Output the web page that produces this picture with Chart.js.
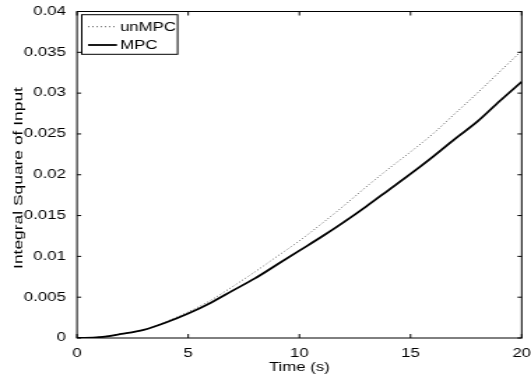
<!DOCTYPE html>
<html><head><meta charset="utf-8">
<script src="https://cdn.jsdelivr.net/npm/chart.js@4"></script>
<style>
html,body{margin:0;padding:0;background:#fff;overflow:hidden;}
#wrap{width:531px;height:382px;position:relative;overflow:hidden;}
canvas{position:absolute;left:0;top:0;transform-origin:0 0;transform:scaleX(1.3974);}
</style></head><body>
<div id="wrap"><canvas id="c" width="380" height="382" style="width:380px;height:382px"></canvas></div>
<script>
const timeS = [0,1,2,3,4,5,6,7,8,9,10,11,12,13,14,15,16,17,18,19,20];
const mpc = [0,0.0001,0.0005,0.0010,0.0019,0.0030,0.0043,0.0058,0.0073,0.0090,0.0107,0.0124,0.0142,0.0161,0.0181,0.0201,0.0222,0.0244,0.0265,0.0290,0.0314];
const unmpc = [0,0.0001,0.0005,0.0010,0.0020,0.0032,0.0046,0.0063,0.0081,0.0100,0.0119,0.0140,0.0162,0.0185,0.0207,0.0228,0.0250,0.0275,0.0300,0.0326,0.0352];
const seriesNames = ['unMPC','MPC'];
const xTicks = [0,5,10,15,20];
const xTickLabels = ['0','5','10','15','20'];
const yTicks = [0,0.005,0.01,0.015,0.02,0.025,0.03,0.035,0.04];
const yTickLabels = ['0','0.005','0.01','0.015','0.02','0.025','0.03','0.035','0.04'];
const xTitle = 'Time (s)';
const yTitle = 'Integral Square of Input';

const K = 1.3974;
const FONT = {family:'"Liberation Sans", Arial, Helvetica, sans-serif', size:12};

function drawYTitle(){
  const s = this, ctx = s.ctx, t = s.options.title;
  ctx.save();
  ctx.fillStyle = t.color;
  ctx.font = '12px "Liberation Sans", Arial, sans-serif';
  ctx.translate(13.6, 178);
  ctx.scale(1/K, 1.45);
  ctx.rotate(-Math.PI/2);
  ctx.textAlign='center'; ctx.textBaseline='middle';
  ctx.fillText(t.text, 0, 0);
  ctx.restore();
}

const frame = {
  id:'frame',
  afterDatasetsDraw(chart){
    const {ctx, chartArea:a, scales:{x,y}} = chart;
    ctx.save();
    ctx.strokeStyle='#000'; ctx.lineWidth=1; ctx.setLineDash([]);
    ctx.strokeRect(a.left, a.top, a.right-a.left, a.bottom-a.top);
    ctx.beginPath();
    xTicks.forEach(v=>{const px=x.getPixelForValue(v); ctx.moveTo(px,a.bottom); ctx.lineTo(px,a.bottom-4); ctx.moveTo(px,a.top); ctx.lineTo(px,a.top+4);});
    yTicks.forEach(v=>{const py=y.getPixelForValue(v); ctx.moveTo(a.left,py); ctx.lineTo(a.left+3,py); ctx.moveTo(a.right,py); ctx.lineTo(a.right-3,py);});
    ctx.stroke();
    // legend
    const lx=a.left+3.4, ly=a.top+3.2, lw=68.6, lh=39.6;
    ctx.fillStyle='#fff';
    ctx.fillRect(lx,ly,lw,lh);
    ctx.strokeRect(lx,ly,lw,lh);
    const ds = chart.data.datasets;
    const rows=[ly+12, ly+30.3];
    ds.forEach((d,i)=>{
      const yy=rows[i];
      ctx.beginPath();
      ctx.strokeStyle=d.borderColor;
      ctx.lineWidth=d.borderWidth;
      ctx.setLineDash(d.borderDash||[]);
      ctx.moveTo(lx+4.5,yy); ctx.lineTo(lx+25.2,yy);
      ctx.stroke();
      ctx.setLineDash([]);
      ctx.fillStyle='#000';
      ctx.font='12px "Liberation Sans", Arial, sans-serif';
      ctx.textBaseline='middle'; ctx.textAlign='left';
      ctx.fillText(d.label, lx+27.4, yy+0.5);
    });
    ctx.restore();
  }
};

new Chart(document.getElementById('c'),{
  type:'line',
  data:{
    datasets:[
      {label:seriesNames[0], data:timeS.map((t,i)=>({x:t,y:unmpc[i]})), borderColor:'rgba(0,0,0,0.65)', borderWidth:1, borderDash:[1,2], pointRadius:0, cubicInterpolationMode:'monotone', fill:false},
      {label:seriesNames[1], data:timeS.map((t,i)=>({x:t,y:mpc[i]})), borderColor:'#000', borderWidth:1.8, pointRadius:0, cubicInterpolationMode:'monotone', fill:false}
    ]
  },
  options:{
    responsive:false, animation:false, devicePixelRatio:1,
    layout:{padding:{top:11.5,right:5.7,left:0,bottom:0}},
    plugins:{legend:{display:false}, tooltip:{enabled:false}},
    scales:{
      x:{type:'linear', min:0, max:20,
        afterBuildTicks:s=>{s.ticks=xTicks.map(v=>({value:v}));},
        afterFit:s=>{s.height=44;},
        grid:{display:false}, border:{display:false},
        ticks:{font:FONT, color:'#000', padding:0, maxRotation:0, callback:(v,i)=>xTickLabels[i]},
        title:{display:true, text:xTitle, font:FONT, color:'#000', padding:{top:0,bottom:7}}
      },
      y:{type:'linear', min:0, max:0.04,
        afterBuildTicks:s=>{s.ticks=yTicks.map(v=>({value:v}));},
        afterFit:s=>{s.width=55.1; s.drawTitle=drawYTitle;},
        grid:{display:false}, border:{display:false},
        ticks:{font:FONT, color:'#000', padding:0, callback:(v,i)=>yTickLabels[i]},
        title:{display:true, text:yTitle, font:FONT, color:'#000', padding:{top:6,bottom:0}}
      }
    }
  },
  plugins:[frame]
});
</script>
</body></html>
